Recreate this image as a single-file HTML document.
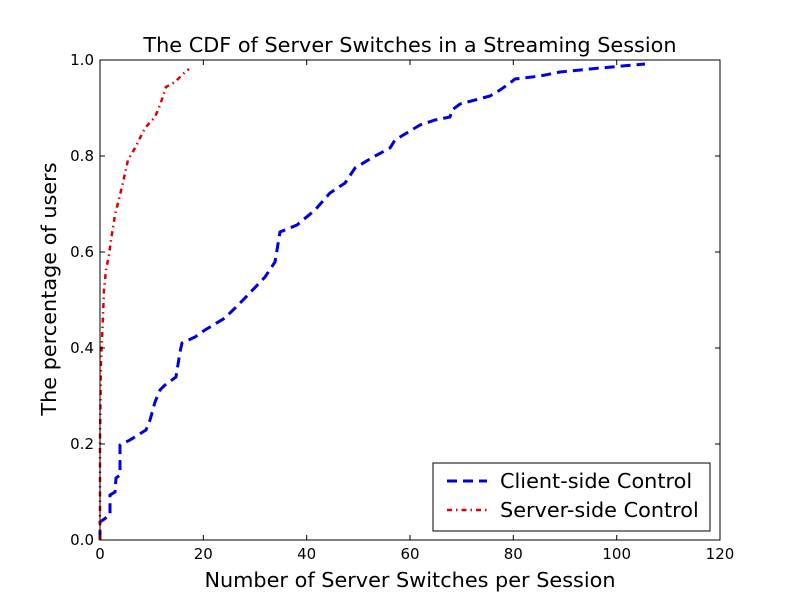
<!DOCTYPE html>
<html><head><meta charset="utf-8"><style>body{margin:0;background:#fff}svg{display:block}text{font-family:"DejaVu Sans","Liberation Sans",sans-serif}</style></head><body>
<svg width="800" height="600" viewBox="0 0 800 600">
<rect width="800" height="600" fill="#fff"/>
<polyline fill="none" stroke="#0000dd" stroke-width="3" stroke-dasharray="10,6" points="100,540 100,522 110,515 110,495 115,492 116,478 120,475 120,445 130,440 146,430 150,420 155,402 160,390 165,385 176,377 180,352 182,343 195,337 205,330 225,318 245,298 265,277 275,262 280,232 297,225 315,210 330,193 345,183 355,168 375,156 390,148 395,140 420,125 435,120 450,117 452,110 460,104 490,96 500,90 510,83 515,79 540,76 560,72 600,68 645,64"/>
<polyline fill="none" stroke="#dd0000" stroke-width="2.5" stroke-dasharray="5,4,1.5,4" points="100,540 100,440 101,360 102,340 104,290 106,270 109,255 111,240 115,215 120,195 124,178 128,160 135,148 145,128 155,117 160,105 166,87 175,82 183,74 189,69"/>
<rect x="100" y="60" width="620" height="480" fill="none" stroke="#000" stroke-width="1"/>
<g stroke="#000" stroke-width="1">
<line x1="203.3" y1="540" x2="203.3" y2="535"/><line x1="306.7" y1="540" x2="306.7" y2="535"/><line x1="410" y1="540" x2="410" y2="535"/><line x1="513.3" y1="540" x2="513.3" y2="535"/><line x1="616.7" y1="540" x2="616.7" y2="535"/>
<line x1="203.3" y1="60" x2="203.3" y2="65"/><line x1="306.7" y1="60" x2="306.7" y2="65"/><line x1="410" y1="60" x2="410" y2="65"/><line x1="513.3" y1="60" x2="513.3" y2="65"/><line x1="616.7" y1="60" x2="616.7" y2="65"/>
<line x1="100" y1="444" x2="105" y2="444"/><line x1="100" y1="348" x2="105" y2="348"/><line x1="100" y1="252" x2="105" y2="252"/><line x1="100" y1="156" x2="105" y2="156"/>
<line x1="720" y1="444" x2="715" y2="444"/><line x1="720" y1="348" x2="715" y2="348"/><line x1="720" y1="252" x2="715" y2="252"/><line x1="720" y1="156" x2="715" y2="156"/>
</g>
<g font-size="15" text-anchor="middle">
<text x="100" y="559">0</text><text x="203.3" y="559">20</text><text x="306.7" y="559">40</text><text x="410" y="559">60</text><text x="513.3" y="559">80</text><text x="616.7" y="559">100</text><text x="720" y="559">120</text>
</g>
<g font-size="15" text-anchor="end">
<text x="94" y="545">0.0</text><text x="94" y="449">0.2</text><text x="94" y="353">0.4</text><text x="94" y="257">0.6</text><text x="94" y="161">0.8</text><text x="94" y="65">1.0</text>
</g>
<text x="410" y="52" font-size="20.8" text-anchor="middle">The CDF of Server Switches in a Streaming Session</text>
<text x="410" y="587" font-size="20.8" text-anchor="middle">Number of Server Switches per Session</text>
<text transform="translate(56,289) rotate(-90)" font-size="20.8" text-anchor="middle">The percentage of users</text>
<rect x="433" y="463" width="277" height="68" fill="#fff" stroke="#000" stroke-width="1"/>
<line x1="447" y1="481" x2="487" y2="481" stroke="#0000dd" stroke-width="3" stroke-dasharray="10,6"/>
<line x1="447" y1="510" x2="487" y2="510" stroke="#dd0000" stroke-width="2.5" stroke-dasharray="5,4,1.5,4"/>
<text x="500" y="488" font-size="20.8">Client-side Control</text>
<text x="500" y="517" font-size="20.8">Server-side Control</text>
</svg>
</body></html>
